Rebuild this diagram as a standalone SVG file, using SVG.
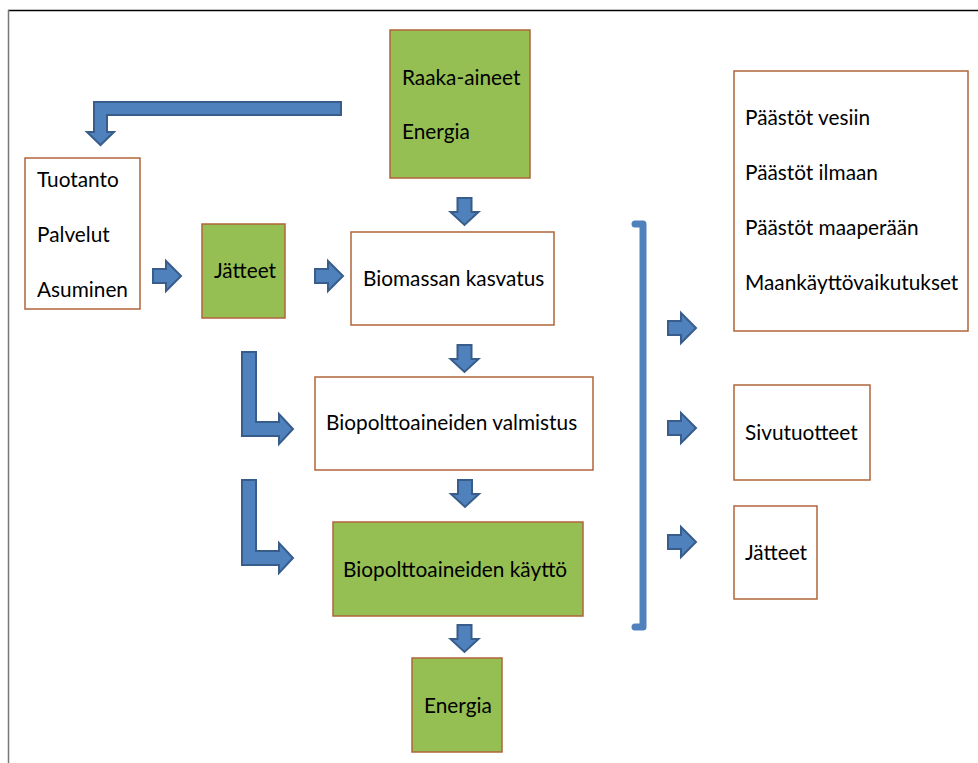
<svg xmlns="http://www.w3.org/2000/svg" width="978" height="763" viewBox="0 0 978 763">
<style>
.box{fill:#fff;stroke:#B0653A;stroke-width:1.5}
.g{fill:#95BF53;stroke:#B0653A;stroke-width:1.5}
.ar{fill:#4F81BD;stroke:#385D8A;stroke-width:2;stroke-linejoin:miter}
text{font-family:Lato,"Open Sans","Liberation Sans",sans-serif;font-size:20.8px;fill:#000}
</style>
<defs>
<path id="down" d="M-7,0 H7 V14 H14 L0,27 L-14,14 H-7 Z"/>
<path id="right" d="M0,-7 V7 H13 V15 L28,0 L13,-15 V-7 Z"/>
</defs>
<rect width="978" height="763" fill="#fff"/>
<line x1="8" y1="10.5" x2="978" y2="10.5" stroke="#000" stroke-width="1.5"/>
<line x1="8.5" y1="10" x2="8.5" y2="763" stroke="#777" stroke-width="1.5"/>

<g id="connectors">
<path class="ar" d="M341,102 V115 H107 V132 H114 L100.5,145 L87,132 H94 V102 Z"/>
<path class="ar" d="M242,352 H256 V422 H279 V414 L293,429 L279,444 V436 H242 Z"/>
<path class="ar" d="M242,480 H256 V551 H279 V543 L293,558 L279,573 V565 H242 Z"/>
<use href="#right" class="ar" x="153" y="276"/>
<use href="#right" class="ar" x="315" y="276"/>
<use href="#down" class="ar" x="464.5" y="198"/>
<use href="#down" class="ar" x="464.5" y="345"/>
<use href="#down" class="ar" x="465" y="480"/>
<use href="#down" class="ar" x="464.5" y="625"/>
<use href="#right" class="ar" x="668" y="328"/>
<use href="#right" class="ar" x="668" y="428"/>
<use href="#right" class="ar" x="668" y="542"/>
<path d="M635,224 H643 V627 H635" fill="none" stroke="#4F81BD" stroke-width="7" stroke-linecap="round" stroke-linejoin="round"/>
</g>

<g id="n-raaka"><rect class="g" x="390" y="30" width="140" height="148"/><text x="402" y="85">Raaka-aineet</text><text x="402" y="139">Energia</text></g>
<g id="n-tuotanto"><rect class="box" x="25" y="158" width="115" height="151"/><text x="37" y="187">Tuotanto</text><text x="37" y="242">Palvelut</text><text x="37" y="297">Asuminen</text></g>
<g id="n-jatteet1"><rect class="g" x="202" y="224" width="83" height="94"/><text x="214" y="278">Jätteet</text></g>
<g id="n-biomassa"><rect class="box" x="351" y="232" width="203" height="93"/><text x="363" y="286">Biomassan kasvatus</text></g>
<g id="n-valmistus"><rect class="box" x="315" y="377" width="278" height="93"/><text x="326" y="430">Biopolttoaineiden valmistus</text></g>
<g id="n-kaytto"><rect class="g" x="333" y="522" width="250" height="94"/><text x="343" y="577">Biopolttoaineiden käyttö</text></g>
<g id="n-energia"><rect class="g" x="412" y="658" width="90" height="94"/><text x="424" y="713">Energia</text></g>
<g id="n-paastot"><rect class="box" x="734" y="71" width="234" height="260"/><text x="745" y="125">Päästöt vesiin</text><text x="745" y="180">Päästöt ilmaan</text><text x="745" y="235">Päästöt maaperään</text><text x="745" y="290">Maankäyttövaikutukset</text></g>
<g id="n-sivu"><rect class="box" x="734" y="385" width="136" height="95"/><text x="745" y="440">Sivutuotteet</text></g>
<g id="n-jatteet2"><rect class="box" x="734" y="506" width="83" height="93"/><text x="745" y="560">Jätteet</text></g>
</svg>
